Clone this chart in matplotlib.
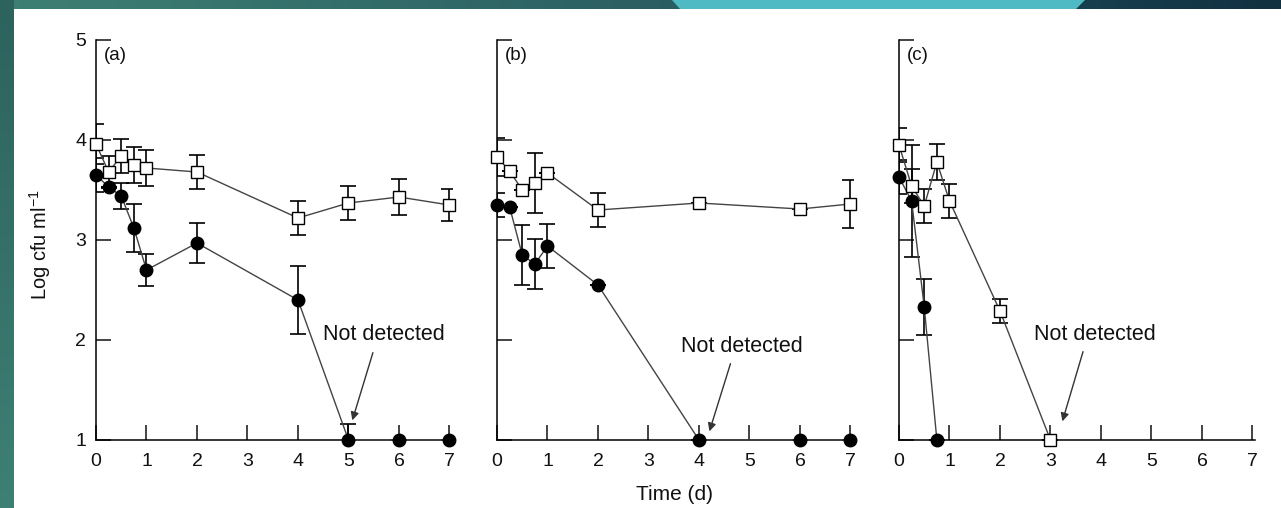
import numpy as np
import matplotlib
matplotlib.use("Agg")
import matplotlib.pyplot as plt
from matplotlib.patches import Polygon

plt.rcParams['font.family'] = ['Liberation Sans', 'DejaVu Sans']
plt.rcParams['mathtext.default'] = 'regular'

# Data: time (d), log cfu/ml, error bar half-width
sq_a_t = [0, 0.25, 0.5, 0.75, 1, 2, 4, 5, 6, 7]
sq_a_v = [3.96, 3.68, 3.84, 3.75, 3.72, 3.68, 3.22, 3.37, 3.43, 3.35]
sq_a_e = [0.20, 0.16, 0.17, 0.18, 0.18, 0.17, 0.17, 0.17, 0.18, 0.16]
ci_a_t = [0, 0.25, 0.5, 0.75, 1, 2, 4, 5, 6, 7]
ci_a_v = [3.65, 3.53, 3.44, 3.12, 2.70, 2.97, 2.40, 1.0, 1.0, 1.0]
ci_a_e = [0.17, 0.0, 0.13, 0.24, 0.16, 0.20, 0.34, 0.16, 0.0, 0.0]

sq_b_t = [0, 0.25, 0.5, 0.75, 1, 2, 4, 6, 7]
sq_b_v = [3.83, 3.69, 3.50, 3.57, 3.67, 3.30, 3.37, 3.31, 3.36]
sq_b_e = [0.19, 0.0, 0.0, 0.30, 0.0, 0.17, 0.0, 0.0, 0.24]
ci_b_t = [0, 0.25, 0.5, 0.75, 1, 2, 4, 6, 7]
ci_b_v = [3.35, 3.33, 2.85, 2.76, 2.94, 2.55, 1.0, 1.0, 1.0]
ci_b_e = [0.12, 0.0, 0.30, 0.25, 0.22, 0.0, 0.0, 0.0, 0.0]

sq_c_t = [0, 0.25, 0.5, 0.75, 1, 2, 3]
sq_c_v = [3.95, 3.54, 3.34, 3.78, 3.39, 2.29, 1.0]
sq_c_e = [0.17, 0.17, 0.17, 0.18, 0.17, 0.12, 0.0]
ci_c_t = [0, 0.25, 0.5, 0.75]
ci_c_v = [3.63, 3.39, 2.33, 1.0]
ci_c_e = [0.17, 0.56, 0.28, 0.0]

panel_labels = ['(a)', '(b)', '(c)']
# "Not detected" note: text position, arrow tail, arrow head (data coords)
notes = [((5.70, 2.05), (5.50, 1.90), (5.06, 1.17)),
         ((4.85, 1.93), (4.64, 1.79), (4.19, 1.06)),
         ((3.87, 2.05), (3.66, 1.91), (3.22, 1.16))]

W, H = 1281, 508
fig = plt.figure(figsize=(W / 100, H / 100), dpi=100)
fig.patch.set_facecolor('white')

# slide decoration: strips along the left and top edges
def px_poly(pts, color):
    p = Polygon([(x / W, 1 - y / H) for x, y in pts], closed=True,
                transform=fig.transFigure, facecolor=color, edgecolor='none')
    fig.add_artist(p)

bg = fig.add_axes([0, 0, 1, 1], zorder=-10)
bg.axis('off')
grad = np.linspace(0, 1, 256)[None, :]
bg.imshow(grad, extent=[0 / W, 680 / W, 1 - 9 / H, 1], aspect='auto',
          cmap=matplotlib.colors.LinearSegmentedColormap.from_list('t', ['#3e8074', '#2a5d61']))
bg.imshow(grad, extent=[1076 / W, 1, 1 - 9 / H, 1], aspect='auto',
          cmap=matplotlib.colors.LinearSegmentedColormap.from_list('n', ['#17404f', '#113040']))
bg.imshow(np.linspace(0, 1, 256)[:, None], extent=[0, 14 / W, 0, 1], aspect='auto',
          cmap=matplotlib.colors.LinearSegmentedColormap.from_list('l', ['#2d625d', '#3e8074']))
bg.set_xlim(0, 1)
bg.set_ylim(0, 1)
px_poly([(672, 0), (1085, 0), (1076, 9), (680, 9)], '#50bac4')

lefts = [96, 497, 899]
series = [(sq_a_t, sq_a_v, sq_a_e, ci_a_t, ci_a_v, ci_a_e),
          (sq_b_t, sq_b_v, sq_b_e, ci_b_t, ci_b_v, ci_b_e),
          (sq_c_t, sq_c_v, sq_c_e, ci_c_t, ci_c_v, ci_c_e)]

for i, (left, s) in enumerate(zip(lefts, series)):
    st, sv, se, ct, cv, ce = s
    ax = fig.add_axes([left / W, 68 / H, 356 / W, 400 / H])
    ax.set_xlim(0, 7.05)
    ax.set_ylim(1, 5)
    ax.patch.set_alpha(0)
    for side in ['top', 'right']:
        ax.spines[side].set_visible(False)
    for side in ['left', 'bottom']:
        ax.spines[side].set_linewidth(1.1)
    ax.set_xticks(range(8))
    ax.set_yticks([1, 2, 3, 4, 5])
    ax.tick_params(direction='in', length=11, width=1.1, labelsize=14,
                   colors='#111111')
    ax.tick_params(axis='x', pad=9)
    ax.tick_params(axis='y', pad=7)
    if i > 0:
        ax.set_yticklabels([])

    # error bars (clipped at the axis) then lines and markers
    ax.errorbar(ct, cv, yerr=ce, fmt='none', ecolor='black', elinewidth=1.2,
                capsize=6, capthick=1.2, zorder=2)
    ax.errorbar(st, sv, yerr=se, fmt='none', ecolor='black', elinewidth=1.2,
                capsize=6, capthick=1.2, zorder=2)
    ax.plot(ct, cv, '-', color='#444444', lw=1.0, zorder=3, clip_on=False)
    ax.plot(st, sv, '-', color='#444444', lw=1.0, zorder=3, clip_on=False)
    ax.plot(ct, cv, 'o', ms=9, mfc='black', mec='black', zorder=4, clip_on=False)
    ax.plot(st, sv, 's', ms=8.2, mfc='white', mec='black', mew=1.0, zorder=5,
            clip_on=False)

    ax.text(0.15, 4.85, panel_labels[i], fontsize=13.5, color='#111111',
            ha='left', va='center')
    txt, tail, head = notes[i]
    ax.text(txt[0], txt[1], 'Not detected', fontsize=15.5, color='#111111',
            ha='center', va='center')
    ax.annotate('', xy=head, xytext=tail,
                arrowprops=dict(arrowstyle='-|>', color='#333333', lw=1.0,
                                mutation_scale=12))

fig.text(40 / W, 1 - 245 / H, 'Log cfu ml$^{-1}$', rotation=90, fontsize=14.5,
         color='#111111', ha='center', va='center')
fig.text(675 / W, 1 - 495 / H, 'Time (d)', fontsize=15, color='#111111',
         ha='center', va='center')

fig.savefig('out.png', dpi=100, facecolor=fig.get_facecolor())
